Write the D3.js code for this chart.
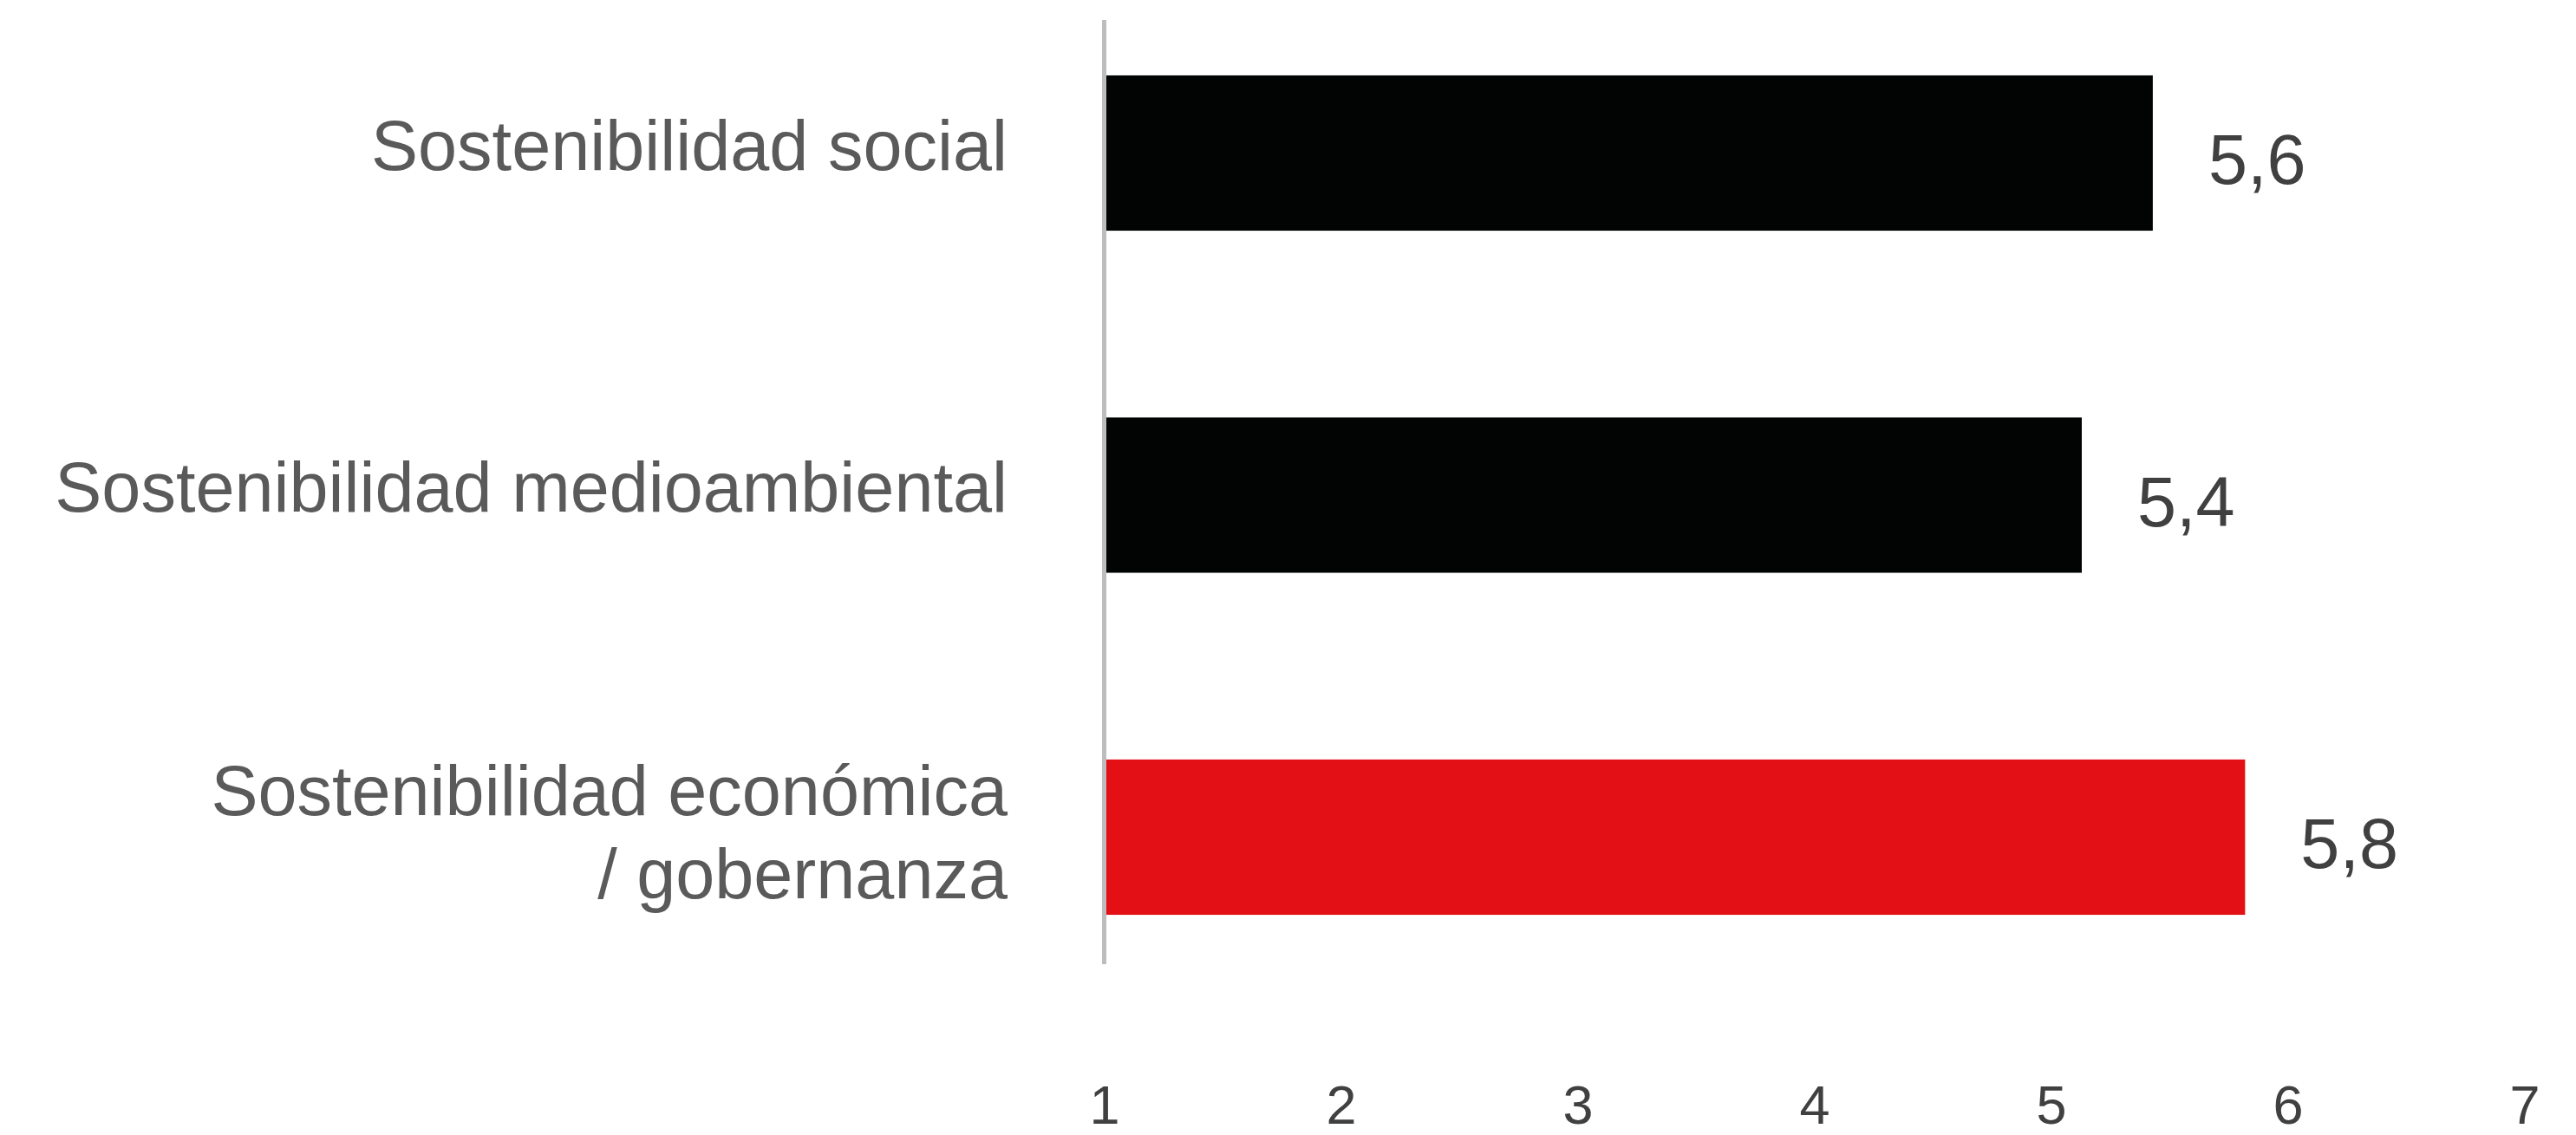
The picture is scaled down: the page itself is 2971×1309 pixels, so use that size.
<!DOCTYPE html>
<html>
<head>
<meta charset="utf-8">
<script src="https://cdn.jsdelivr.net/npm/d3@7"></script>
<style>
  html, body { margin: 0; padding: 0; background: #ffffff; }
  svg { display: block; }
</style>
</head>
<body>
<svg id="chart" width="2971" height="1309"></svg>
<script>
// ---- data ----
const categories = [
  ["Sostenibilidad social"],
  ["Sostenibilidad medioambiental"],
  ["Sostenibilidad económica", "/ gobernanza"]
];
const categoryKeys = ["social", "medioambiental", "economica"];
const barValues = [5.43, 5.13, 5.82];
const valueLabels = ["5,6", "5,4", "5,8"];
const barColors = ["#020303", "#020303", "#e31015"];
const xTicks = [1, 2, 3, 4, 5, 6, 7];
const xTickLabels = ["1", "2", "3", "4", "5", "6", "7"];

// ---- layout ----
const W = 2971, H = 1309;
const font = "'Liberation Sans', Arial, sans-serif";
const svg = d3.select("#chart");

const x = d3.scaleLinear().domain([1, 7]).range([1273.5, 2911.5]);
const y = d3.scaleBand()
  .domain(categoryKeys)
  .range([-20.75, 1162.75])
  .paddingInner(0.546)
  .paddingOuter(0.273);

// bars
svg.append("g").selectAll("rect")
  .data(categoryKeys)
  .join("rect")
  .attr("x", x(1))
  .attr("y", d => y(d))
  .attr("width", (d, i) => x(barValues[i]) - x(1))
  .attr("height", y.bandwidth())
  .attr("fill", (d, i) => barColors[i]);

// vertical axis line
svg.append("line")
  .attr("x1", x(1)).attr("x2", x(1))
  .attr("y1", 23).attr("y2", 1112)
  .attr("stroke", "#bdbdbd")
  .attr("stroke-width", 5);

// value labels
svg.append("g").selectAll("text")
  .data(categoryKeys)
  .join("text")
  .attr("x", (d, i) => x(barValues[i]) + 64)
  .attr("y", d => y(d) + y.bandwidth() / 2 + 35.5)
  .attr("font-family", font)
  .attr("font-size", 81)
  .attr("fill", "#404040")
  .text((d, i) => valueLabels[i]);

// category labels
const lineH = 96;
const catG = svg.append("g");
categoryKeys.forEach((k, i) => {
  const lines = categories[i];
  const n = lines.length;
  const cy = y(k) + y.bandwidth() / 2;
  const t = catG.append("text")
    .attr("text-anchor", "end")
    .attr("font-family", font)
    .attr("font-size", 81)
    .attr("fill", "#5a5a5a");
  lines.forEach((ln, j) => {
    t.append("tspan")
      .attr("x", 1162)
      .attr("y", cy + 19 + (n > 1 ? 3 : 0) + (j - (n - 1) / 2) * lineH)
      .text(ln);
  });
});

// x axis tick labels
const xAxis = d3.axisBottom(x)
  .tickValues(xTicks)
  .tickFormat((d, i) => xTickLabels[i])
  .tickSize(0);
const ax = svg.append("g").call(xAxis);
ax.select(".domain").remove();
ax.selectAll("text")
  .attr("y", 1296)
  .attr("dy", 0)
  .attr("font-family", font)
  .attr("font-size", 63)
  .attr("fill", "#404040");
</script>
</body>
</html>
